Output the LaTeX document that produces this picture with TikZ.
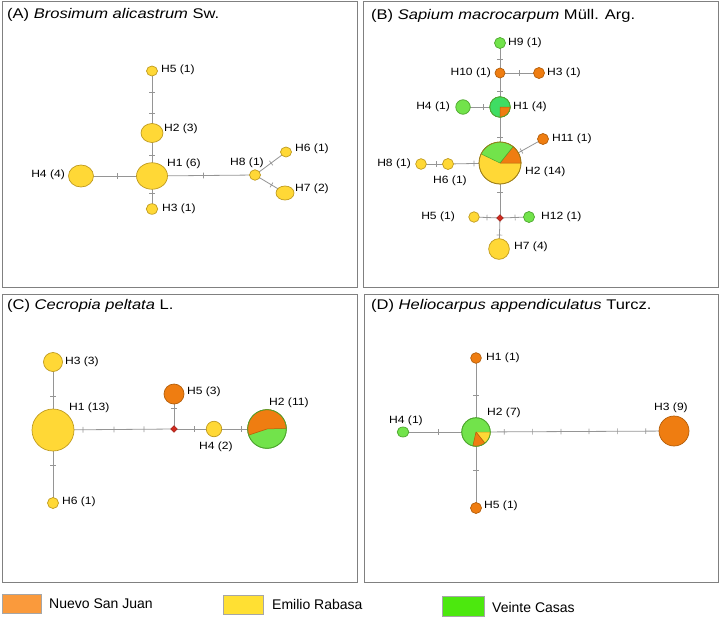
\documentclass[tikz,border=0pt]{standalone}
\usepackage{fontspec}
\setmainfont{Liberation Sans}
\newfontfamily\lbfont[FakeStretch=1.15]{Liberation Sans}
\newfontfamily\ttfnt[FakeStretch=1.18]{Liberation Sans}
\usetikzlibrary{shapes.geometric,decorations.markings}
\pgfdeclarelayer{bg}
\pgfsetlayers{bg,main}
\definecolor{yel}{HTML}{FFD836}
\definecolor{yelD}{HTML}{BF9A1F}
\definecolor{ora}{HTML}{EF7D11}
\definecolor{oraD}{HTML}{B45E0A}
\definecolor{grn}{HTML}{72E34B}
\definecolor{grnD}{HTML}{4DA62E}
\definecolor{grnB}{HTML}{3FDD63}
\definecolor{edgec}{HTML}{959595}
\definecolor{framec}{HTML}{808080}
\definecolor{legO}{HTML}{FA9A3C}
\definecolor{legY}{HTML}{FFE033}
\definecolor{legG}{HTML}{4CE80E}
\definecolor{dia}{HTML}{D02A1E}
\newcommand{\pslice}[6]{\filldraw[fill=#1,draw=#2,line width=.5pt,line join=round] (#3.center) -- ++(#4:#6pt) arc[start angle=#4, end angle=#5, radius=#6pt] -- cycle;}
\tikzset{
  frame/.style={draw=framec, line width=1pt},
  hy/.style={circle, inner sep=0pt, line width=.7pt, draw=yelD, fill=yel, minimum size=#1},
  ho/.style={circle, inner sep=0pt, line width=.7pt, draw=oraD, fill=ora, minimum size=#1},
  hg/.style={circle, inner sep=0pt, line width=.7pt, draw=grnD, fill=grn, minimum size=#1},
  dmd/.style={shape=diamond, inner sep=0pt, fill=dia, draw=dia!70!black, line width=.4pt, minimum size=7pt},
  conn/.style={draw=edgec, line width=.8pt},
  mut/.style={postaction={decorate, decoration={markings, mark=at position #1 with {\draw[edgec, line width=.7pt] (0,-2.8pt) -- (0,2.8pt);}}}},
  lab/.style={font=\lbfont\fontsize{10.5}{12}\selectfont, inner sep=0pt, anchor=west},
  labr/.style={lab, anchor=east},
  ttl/.style={font=\ttfnt\fontsize{14}{17}\selectfont, inner sep=0pt, anchor=west},
  leg/.style={font=\fontsize{14}{17}\selectfont, inner sep=0pt, anchor=west},
  legbox/.style={draw=black!35, line width=.6pt}
}
\begin{document}
\begin{tikzpicture}[x=1pt,y=-1pt]
\useasboundingbox (0,0) rectangle (720,616);
% frames
\draw[frame] (2,1) rectangle (357,287);
\draw[frame] (363,1) rectangle (718,287);
\draw[frame] (2,294) rectangle (357,582);
\draw[frame] (364,294) rectangle (718,582);
% ---------- Panel A ----------
\node[ttl] (ta) at (7,15) {(A) \textit{Brosimum alicastrum} Sw.};
\node[hy=0, ellipse, minimum width=11, minimum height=10] (a5) at (152,71) {};
\node[hy=0, ellipse, minimum width=22, minimum height=19] (a2) at (152,133) {};
\node[hy=0, ellipse, minimum width=31, minimum height=26.5] (a1) at (152,176) {};
\node[hy=0, ellipse, minimum width=25, minimum height=22] (a4) at (81,176) {};
\node[hy=0, ellipse, minimum width=11.5, minimum height=10.5] (a3) at (152,209) {};
\node[hy=0, ellipse, minimum width=11, minimum height=10.5] (a8) at (255,175) {};
\node[hy=0, ellipse, minimum width=11, minimum height=10] (a6) at (286,152) {};
\node[hy=0, ellipse, minimum width=18, minimum height=14] (a7) at (285,193) {};
\node[lab] (la5) at (161,70) {H5 (1)};
\node[lab] (la2) at (164,129) {H2 (3)};
\node[lab] (la1) at (167,164) {H1 (6)};
\node[labr] (la4) at (65,175) {H4 (4)};
\node[lab] (la3) at (162,209) {H3 (1)};
\node[lab] (la8) at (230,163) {H8 (1)};
\node[lab] (la6) at (295,149) {H6 (1)};
\node[lab] (la7) at (295,189) {H7 (2)};
% ---------- Panel B ----------
\node[ttl] (tb) at (371,16) {(B) \textit{Sapium macrocarpum} Müll. Arg.};
\node[hg=11] (b9) at (500,43) {};
\node[ho=10] (b10) at (500,73) {};
\node[ho=11] (b3) at (539,73) {};
\node[hg=20.5, fill=grnB] (b1) at (500,107) {};
\node[hg=14.5] (b4) at (463,107) {};
\node[hy=42] (b2) at (500,163) {};
\node[ho=11] (b11) at (543,139) {};
\node[hy=10.7] (b8) at (421,164) {};
\node[hy=11] (b6) at (448,164) {};
\node[hy=10.5] (b5) at (474,217) {};
\node[dmd] (bd) at (500,218) {};
\node[hg=11] (b12) at (529,217) {};
\node[hy=20.7] (b7) at (499,249) {};
\pslice{ora}{oraD}{b1}{270}{360}{10.25}
\draw[grnD, line width=.7pt] (b1) circle[radius=10.25pt];
\pslice{ora}{oraD}{b2}{0}{51.4}{21}
\pslice{grn}{grnD}{b2}{51.4}{154.3}{21}
\draw[yelD!80!black, line width=.7pt] (b2) circle[radius=21pt];
\node[lab] (lb9) at (508,43) {H9 (1)};
\node[labr] (lb10) at (491,73) {H10 (1)};
\node[lab] (lb3) at (547,73) {H3 (1)};
\node[labr] (lb4) at (450,107) {H4 (1)};
\node[lab] (lb1) at (513,107) {H1 (4)};
\node[lab] (lb11) at (552,139) {H11 (1)};
\node[labr] (lb8) at (411,164) {H8 (1)};
\node[lab] (lb6) at (433,181) {H6 (1)};
\node[lab] (lb2) at (525,172) {H2 (14)};
\node[labr] (lb5) at (455,217) {H5 (1)};
\node[lab] (lb12) at (541,217) {H12 (1)};
\node[lab] (lb7) at (514,247) {H7 (4)};
% ---------- Panel C ----------
\node[ttl] (tc) at (7,306) {(C) \textit{Cecropia peltata} L.};
\node[hy=19] (c3) at (53,362) {};
\node[hy=42] (c1) at (53,430) {};
\node[hy=11] (c6) at (53,503) {};
\node[ho=20] (c5) at (174,394) {};
\node[dmd] (cd) at (174,429) {};
\node[hy=15.5] (c4) at (214,429) {};
\node[hg=38.7] (c2) at (267,429) {};
\pslice{ora}{oraD}{c2}{2}{198.4}{19.35}
\draw[grnD, line width=.7pt] (c2) circle[radius=19.35pt];
\node[lab] (lc3) at (65,362) {H3 (3)};
\node[lab] (lc1) at (69,408) {H1 (13)};
\node[lab] (lc5) at (187,392) {H5 (3)};
\node[lab] (lc2) at (269,403) {H2 (11)};
\node[lab] (lc4) at (199,447) {H4 (2)};
\node[lab] (lc6) at (62,502) {H6 (1)};
% ---------- Panel D ----------
\node[ttl] (td) at (371,306) {(D) \textit{Heliocarpus appendiculatus} Turcz.};
\node[ho=10.7] (d1) at (476,358) {};
\node[hg=28.5] (d2) at (476,432) {};
\node[hg=0, ellipse, minimum width=11.7, minimum height=10] (d4) at (403,432) {};
\node[ho=11] (d5) at (476,508) {};
\node[ho=30] (d3) at (674,431) {};
\pslice{yel}{yelD}{d2}{308.6}{360}{14.25}
\pslice{ora}{oraD}{d2}{257.2}{308.6}{14.25}
\draw[grnD, line width=.7pt] (d2) circle[radius=14.25pt];
\node[lab] (ld1) at (486,358) {H1 (1)};
\node[lab] (ld2) at (487,413) {H2 (7)};
\node[lab] (ld4) at (389,421) {H4 (1)};
\node[lab] (ld3) at (654,408) {H3 (9)};
\node[lab] (ld5) at (484,506) {H5 (1)};
% ---------- connectors ----------
\begin{pgfonlayer}{bg}
\draw[conn, mut=0.34, mut=0.68] (a5.center) -- (a2.center);
\draw[conn, mut=0.51] (a2.center) -- (a1.center);
\draw[conn, mut=0.49] (a1.center) -- (a4.center);
\draw[conn, mut=0.52] (a1.center) -- (a3.center);
\draw[conn, mut=0.5] (a1.center) -- (a8.center);
\draw[conn, mut=0.52] (a8.center) -- (a6.center);
\draw[conn, mut=0.55] (a8.center) -- (a7.center);
\draw[conn, mut=0.53] (b9.center) -- (b10.center);
\draw[conn, mut=0.49] (b10.center) -- (b3.center);
\draw[conn, mut=0.53] (b10.center) -- (b1.center);
\draw[conn, mut=0.46] (b1.center) -- (b4.center);
\draw[conn, mut=0.54] (b1.center) -- (b2.center);
\draw[conn, mut=0.5] (b2.center) -- (b11.center);
\draw[conn, mut=0.5] (b2.center) -- (b6.center);
\draw[conn, mut=0.44] (b6.center) -- (b8.center);
\draw[conn, mut=0.53] (b2.center) -- (bd.center);
\draw[conn, mut=0.5] (bd.center) -- (b5.center);
\draw[conn, mut=0.52] (bd.center) -- (b12.center);
\draw[conn, mut=0.55] (bd.center) -- (b7.center);
\draw[conn, mut=0.51] (c3.center) -- (c1.center);
\draw[conn, mut=0.49] (c1.center) -- (c6.center);
\draw[conn, mut=0.248, mut=0.504, mut=0.752] (c1.center) -- (cd.center);
\draw[conn, mut=0.6] (cd.center) -- (c5.center);
\draw[conn, mut=0.5] (cd.center) -- (c4.center);
\draw[conn, mut=0.51] (c4.center) -- (c2.center);
\draw[conn, mut=0.5] (d1.center) -- (d2.center);
\draw[conn, mut=0.49] (d4.center) -- (d2.center);
\draw[conn, mut=0.5] (d2.center) -- (d5.center);
\draw[conn, mut=0.143, mut=0.286, mut=0.429, mut=0.571, mut=0.714, mut=0.857] (d2.center) -- (d3.center);
\end{pgfonlayer}
% ---------- legend ----------
\node[legbox, fill=legO, minimum width=39, minimum height=19, inner sep=0pt] (kO) at (21.5,603.5) {};
\node[leg] (tO) at (49,604) {Nuevo San Juan};
\node[legbox, fill=legY, minimum width=40, minimum height=19, inner sep=0pt] (kY) at (243,604.5) {};
\node[leg] (tY) at (272,604) {Emilio Rabasa};
\node[legbox, fill=legG, minimum width=42, minimum height=20, inner sep=0pt] (kG) at (463,606) {};
\node[leg] (tG) at (492,607) {Veinte Casas};
\end{tikzpicture}
\end{document}
